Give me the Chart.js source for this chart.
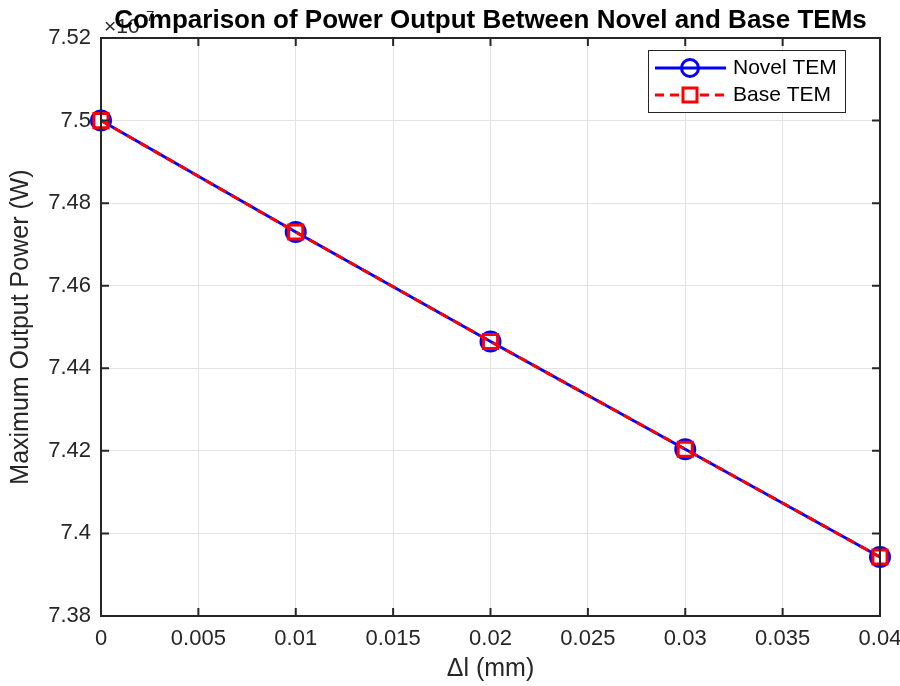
<!DOCTYPE html>
<html>
<head>
<meta charset="utf-8">
<script src="https://cdn.jsdelivr.net/npm/chart.js@4.4.1/dist/chart.umd.min.js"></script>
<style>
  body { margin: 0; background: #fff; }
  #wrap { width: 900px; height: 686px; }
</style>
</head>
<body>
<div id="wrap"><canvas id="chart" width="900" height="686"></canvas></div>
<script>
// data (y values in units of 1e-7 W)
const deltaL = [0, 0.01, 0.02, 0.03, 0.04];
const novelTEM = [7.5, 7.473, 7.4465, 7.4204, 7.3943];
const baseTEM = [7.5, 7.473, 7.4465, 7.4204, 7.3943];
const xTicks = [0, 0.005, 0.01, 0.015, 0.02, 0.025, 0.03, 0.035, 0.04];
const yTicks = [7.38, 7.4, 7.42, 7.44, 7.46, 7.48, 7.5, 7.52];

const TEXT = "#262626";
const FONT = "'Liberation Sans', Arial, Helvetica, sans-serif";

const toPoints = (xs, ys) => xs.map((x, i) => ({ x: x, y: ys[i] }));

// MATLAB style box: top/right edges, inward ticks, title, exponent, legend
const matlabDecor = {
  id: "matlabDecor",
  afterDraw(chart) {
    const ctx = chart.ctx;
    const a = chart.chartArea;
    const xs = chart.scales.x;
    const ys = chart.scales.y;
    ctx.save();
    ctx.strokeStyle = TEXT;
    ctx.lineWidth = 2;
    ctx.strokeRect(a.left, a.top, a.right - a.left, a.bottom - a.top);
    const tl = 8;
    ctx.beginPath();
    xs.ticks.forEach((t) => {
      const px = xs.getPixelForValue(t.value);
      ctx.moveTo(px, a.bottom); ctx.lineTo(px, a.bottom - tl);
      ctx.moveTo(px, a.top); ctx.lineTo(px, a.top + tl);
    });
    ys.ticks.forEach((t) => {
      const py = ys.getPixelForValue(t.value);
      ctx.moveTo(a.left, py); ctx.lineTo(a.left + tl, py);
      ctx.moveTo(a.right, py); ctx.lineTo(a.right - tl, py);
    });
    ctx.stroke();

    // exponent label
    ctx.fillStyle = TEXT;
    ctx.textBaseline = "alphabetic";
    ctx.textAlign = "left";
    ctx.font = "21px " + FONT;
    ctx.fillText("\u00d710", a.left + 3, 33);
    ctx.font = "15px " + FONT;
    ctx.fillText("-7", a.left + 40, 21);

    // title
    ctx.font = "bold 26px " + FONT;
    ctx.textAlign = "center";
    ctx.fillStyle = "#000";
    ctx.fillText("Comparison of Power Output Between Novel and Base TEMs", (a.left + a.right) / 2, 28);

    // legend
    const lx = 648, ly = 50, lw = 197, lh = 62;
    ctx.fillStyle = "#fff";
    ctx.fillRect(lx, ly, lw, lh);
    ctx.strokeStyle = TEXT;
    ctx.lineWidth = 1;
    ctx.strokeRect(lx + 0.5, ly + 0.5, lw, lh);

    // Novel TEM entry
    const ry = 68;
    ctx.strokeStyle = "#0000ff";
    ctx.lineWidth = 3;
    ctx.setLineDash([]);
    ctx.beginPath(); ctx.moveTo(655, ry); ctx.lineTo(726, ry); ctx.stroke();
    ctx.beginPath(); ctx.arc(690, ry, 8.5, 0, Math.PI * 2); ctx.stroke();
    // Base TEM entry
    const ry2 = 95;
    ctx.strokeStyle = "#ff0000";
    ctx.setLineDash([9, 6]);
    ctx.beginPath(); ctx.moveTo(655, ry2); ctx.lineTo(726, ry2); ctx.stroke();
    ctx.setLineDash([]);
    ctx.fillStyle = "#fff";
    ctx.fillRect(683, ry2 - 7, 14, 14);
    ctx.strokeRect(683, ry2 - 7, 14, 14);

    ctx.fillStyle = "#000";
    ctx.textAlign = "left";
    ctx.textBaseline = "middle";
    ctx.font = "21px " + FONT;
    ctx.fillText("Novel TEM", 733, ry);
    ctx.fillText("Base TEM", 733, ry2);
    ctx.restore();
  }
};

new Chart(document.getElementById("chart"), {
  type: "line",
  data: {
    datasets: [
      {
        label: "Novel TEM",
        data: toPoints(deltaL, novelTEM),
        borderColor: "#0000ff",
        borderWidth: 3,
        pointStyle: "circle",
        pointRadius: 9.5,
        pointBorderWidth: 3,
        pointBorderColor: "#0000ff",
        pointBackgroundColor: "rgba(0,0,0,0)",
        tension: 0,
        clip: false,
        order: 1
      },
      {
        label: "Base TEM",
        data: toPoints(deltaL, baseTEM),
        borderColor: "#ff0000",
        borderWidth: 3,
        borderDash: [9, 6],
        pointStyle: "rect",
        pointRadius: 10,
        pointBorderWidth: 3,
        pointBorderColor: "#ff0000",
        pointBackgroundColor: "rgba(0,0,0,0)",
        tension: 0,
        clip: false,
        order: 0
      }
    ]
  },
  options: {
    responsive: false,
    animation: false,
    layout: { padding: { top: 38, right: 20, left: 0, bottom: 0 } },
    plugins: { legend: { display: false }, tooltip: { enabled: false } },
    scales: {
      x: {
        type: "linear",
        min: 0,
        max: 0.04,
        afterBuildTicks: (s) => { s.ticks = xTicks.map((v) => ({ value: v })); },
        afterFit: (s) => { s.height = 70; s.paddingLeft = 0; s.paddingRight = 0; },
        ticks: {
          color: TEXT,
          font: { size: 22, family: FONT },
          padding: 10,
          maxRotation: 0,
          callback: (v) => String(parseFloat(v.toFixed(3)))
        },
        grid: { color: "#e3e3e3", lineWidth: 1, drawTicks: false },
        border: { display: false },
        title: {
          display: true,
          text: "\u0394l (mm)",
          color: TEXT,
          font: { size: 25, family: FONT },
          padding: { top: 0, bottom: 2 }
        }
      },
      y: {
        type: "linear",
        min: 7.38,
        max: 7.52,
        afterBuildTicks: (s) => { s.ticks = yTicks.map((v) => ({ value: v })); },
        afterFit: (s) => { s.width = 101; s.paddingTop = 0; s.paddingBottom = 0; },
        ticks: {
          color: TEXT,
          font: { size: 22, family: FONT },
          padding: 10,
          callback: (v) => String(parseFloat(v.toFixed(2)))
        },
        grid: { color: "#e3e3e3", lineWidth: 1, drawTicks: false },
        border: { display: false },
        title: {
          display: true,
          text: "Maximum Output Power (W)",
          color: TEXT,
          font: { size: 25, family: FONT },
          padding: { top: 6, bottom: 0 }
        }
      }
    }
  },
  plugins: [matlabDecor]
});
</script>
</body>
</html>
